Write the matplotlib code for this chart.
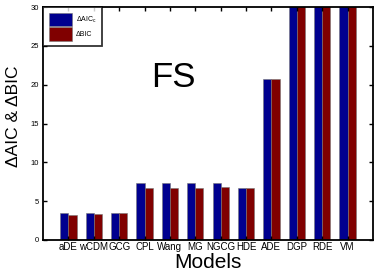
import numpy as np
import matplotlib
matplotlib.use("Agg")
import matplotlib.pyplot as plt
from matplotlib.patches import Patch

plt.rcParams['font.family'] = ['Liberation Sans', 'DejaVu Sans']
plt.rcParams['mathtext.fontset'] = 'custom'
plt.rcParams['mathtext.rm'] = 'Liberation Sans'
plt.rcParams['mathtext.it'] = 'Liberation Sans'

models = ['aDE', 'wCDM', 'GCG', 'CPL', 'Wang', 'MG', 'NGCG', 'HDE', 'ADE', 'DGP', 'RDE', 'VM']
daicc = [3.44, 3.44, 3.52, 7.30, 7.38, 7.30, 7.38, 6.73, 20.7, 45.0, 48.0, 52.0]
dbic = [3.26, 3.35, 3.44, 6.65, 6.73, 6.73, 6.80, 6.65, 20.7, 45.0, 48.0, 52.0]

fig = plt.figure(figsize=(3.82, 2.73), dpi=100)
ax = fig.add_axes([43 / 382, 33 / 273, 330 / 382, 233 / 273])

x = np.arange(1, len(models) + 1)
w = 0.32
ax.bar(x - w / 2, daicc, w, color='#00008f', edgecolor='#777777', linewidth=0.4)
ax.bar(x + w / 2, dbic, w, color='#800000', edgecolor='#777777', linewidth=0.4)

ax.set_xlim(0, len(models) + 1)
ax.set_ylim(0, 30)
ax.set_xticks(x)
ax.set_xticklabels(models, fontsize=7)
ax.set_yticks([0, 5, 10, 15, 20, 25, 30])
ax.tick_params(axis='y', labelsize=5.5, pad=3)
ax.tick_params(direction='in', top=True, right=True, length=3, width=1)
ax.tick_params(axis='x', length=3, pad=1.5)
for s in ax.spines.values():
    s.set_linewidth(1.3)

ax.set_xlabel('Models', fontsize=15, labelpad=1)
ax.set_ylabel('\u0394AIC & \u0394BIC', fontsize=12.5)
ax.yaxis.set_label_coords(-0.068, 0.53)
ax.text(0.394, 0.697, 'FS', transform=ax.transAxes, fontsize=25, ha='center', va='center')

handles = [Patch(facecolor='#00008f', edgecolor='#777777', linewidth=0.4),
           Patch(facecolor='#800000', edgecolor='#777777', linewidth=0.4)]
leg = ax.legend(handles, ['\u0394AIC$_c$', '\u0394BIC'], loc='upper left',
                fontsize=5, frameon=True, fancybox=False, borderaxespad=0,
                handlelength=3.4, handleheight=2.7, borderpad=0.8, labelspacing=0.05,
                handletextpad=0.5)
leg.get_frame().set_edgecolor('black')
leg.get_frame().set_linewidth(1.3)

fig.savefig('out.png', dpi=100)
